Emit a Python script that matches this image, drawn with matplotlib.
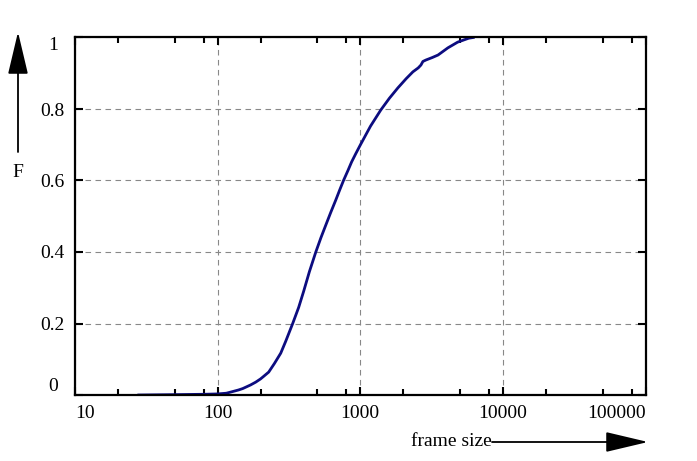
import matplotlib
matplotlib.use("Agg")
from matplotlib import pyplot as plt
from matplotlib.ticker import FixedLocator, NullFormatter

# frame size distribution (CDF)
frame_size = [28, 50, 80, 100, 115, 123, 140, 150, 170, 185, 200, 210, 228,
              250, 277, 300, 336, 370, 401, 440, 488, 530, 573, 620, 673,
              720, 765, 820, 870, 930, 1000, 1180, 1392, 1600, 1835, 2100,
              2340, 2550, 2664, 2750, 2886, 3200, 3511, 4114, 4819, 5760, 6200]
cdf = [0.0, 0.001, 0.002, 0.003, 0.005, 0.008, 0.014, 0.018, 0.028, 0.036,
       0.045, 0.052, 0.064, 0.088, 0.117, 0.15, 0.20, 0.245, 0.29, 0.345,
       0.40, 0.44, 0.475, 0.51, 0.545, 0.575, 0.601, 0.628, 0.652, 0.675,
       0.699, 0.752, 0.797, 0.83, 0.859, 0.885, 0.904, 0.915, 0.923, 0.933,
       0.937, 0.944, 0.951, 0.971, 0.987, 0.998, 1.0]

x_ticks = [10, 100, 1000, 10000, 100000]
x_ticklabels = ["10", "100", "1000", "10000", "100000"]
y_ticks = [0, 0.2, 0.4, 0.6, 0.8, 1]
y_ticklabels = ["0", "0.2", "0.4", "0.6", "0.8", "1"]

plt.rcParams['font.family'] = ['Liberation Serif', 'DejaVu Serif']
plt.rcParams['font.size'] = 14

W, H = 697, 461
fig = plt.figure(figsize=(W / 100, H / 100), dpi=100)
ax = fig.add_axes([75 / W, (H - 395) / H, (645.5 - 75) / W, (395 - 37.5) / H])

ax.plot(frame_size, cdf, color='#0c0c80', lw=2.0)

ax.set_xscale('log')
ax.set_xlim(10, 100000)
ax.set_ylim(0, 1)

ax.set_xticks(x_ticks)
ax.set_xticklabels(x_ticklabels)
minors = [m * 10 ** e for e in range(1, 5) for m in (2, 5, 8)]
ax.xaxis.set_minor_locator(FixedLocator(minors))
ax.xaxis.set_minor_formatter(NullFormatter())
ax.set_yticks(y_ticks)
ax.set_yticklabels(y_ticklabels)

ax.grid(True, which='major', color='#888888', linestyle=(0, (5, 4)), lw=0.8)
for s in ax.spines.values():
    s.set_linewidth(1.6)
ax.tick_params(which='both', direction='in', top=True, right=True, width=1.5)
ax.tick_params(which='major', length=6)
ax.tick_params(which='minor', length=4)
ax.tick_params(axis='x', pad=7)
ax.tick_params(axis='y', pad=16)

for lab in ax.get_yticklabels():
    lab.set_horizontalalignment('center')
ylabs = ax.get_yticklabels()
ylabs[0].set_verticalalignment('bottom')
ylabs[-1].set_verticalalignment('top')
xlabs = ax.get_xticklabels()
xlabs[0].set_horizontalalignment('left')
xlabs[-1].set_horizontalalignment('right')

# axis captions with arrows
fig.text(18 / W, (H - 172) / H, "F", ha='center', va='center')
ax.annotate('', xy=(18, H - 32), xytext=(18, H - 152),
            xycoords='figure pixels', textcoords='figure pixels',
            arrowprops=dict(arrowstyle='-|>,head_length=1.9,head_width=0.45',
                            color='black', lw=1.3, shrinkA=0, shrinkB=0))
fig.text(492 / W, (H - 441) / H, "frame size", ha='right', va='center')
ax.annotate('', xy=(648, H - 442), xytext=(492, H - 442),
            xycoords='figure pixels', textcoords='figure pixels',
            arrowprops=dict(arrowstyle='-|>,head_length=1.9,head_width=0.45',
                            color='black', lw=1.3, shrinkA=0, shrinkB=0))

fig.savefig("out.png", dpi=100)
